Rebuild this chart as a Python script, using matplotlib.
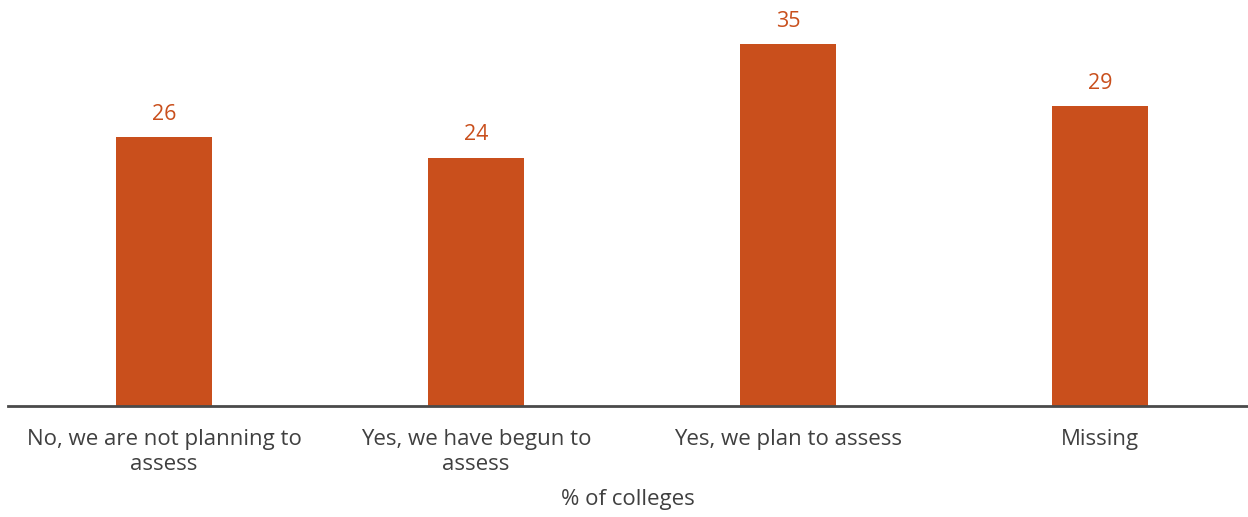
import matplotlib
matplotlib.use('Agg')
import matplotlib.pyplot as plt

# Survey responses: share of colleges by assessment status
categories = ['No, we are not planning to\nassess', 'Yes, we have begun to\nassess',
              'Yes, we plan to assess', 'Missing']
values = [26, 24, 35, 29]

bar_color = '#C94F1C'
text_color = '#404040'

plt.rcParams['font.family'] = ['Open Sans', 'DejaVu Sans']

fig = plt.figure(figsize=(12.48, 5.17), dpi=100)
ax = fig.add_axes([8 / 1248, 1 - 406 / 517, 1240 / 1248, 406 / 517])

x = range(len(categories))
bars = ax.bar(x, values, width=0.31, color=bar_color)

for xi, v in zip(x, values):
    ax.annotate(f'{v}', (xi, v), xytext=(0, 9), textcoords='offset points',
                ha='center', va='bottom', fontsize=15.5, color=bar_color)

ax.set_xlim(-0.5, -0.5 + 1240 / 312)
ax.set_ylim(0, 39.26)
ax.set_xticks(list(x))
ax.set_xticklabels(categories, fontsize=16, color=text_color, linespacing=1.25)
ax.tick_params(axis='x', length=0, pad=16.5)
ax.set_yticks([])
ax.set_xlabel('% of colleges', fontsize=16, color=text_color, labelpad=10)

for side in ['top', 'right', 'left']:
    ax.spines[side].set_visible(False)
ax.spines['bottom'].set_color('#4a4a4a')
ax.spines['bottom'].set_linewidth(2)

fig.savefig('out.png', dpi=100)
